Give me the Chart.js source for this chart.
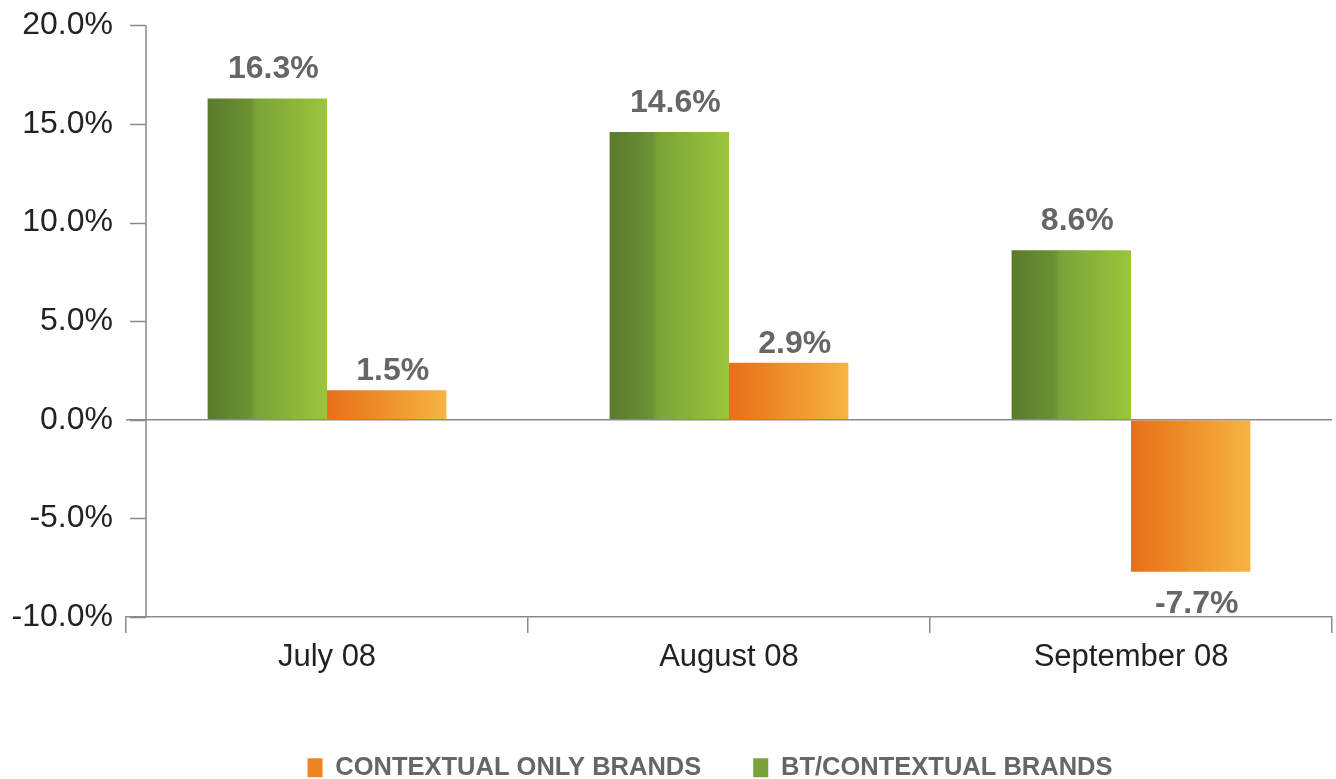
<!DOCTYPE html>
<html>
<head>
<meta charset="utf-8">
<title>BT vs contextual brands</title>
<script src="https://cdn.jsdelivr.net/npm/chart.js@4"></script>
<style>
  html, body { margin: 0; padding: 0; background: #fff; }
  #wrap { width: 1336px; height: 779px; position: relative; }
</style>
</head>
<body>
<div id="wrap"><canvas id="liftChart"></canvas></div>
<script>
// month categories and monthly lift per brand group (percent)
const months = ['July 08', 'August 08', 'September 08'];
const btContextual = [16.3, 14.6, 8.6];
const contextualOnly = [1.5, 2.9, -7.7];
const yTicks = [-10, -5, 0, 5, 10, 15, 20];

const FONT = '"Liberation Sans", Arial, Helvetica, sans-serif';
const AXIS = '#8a8a8a';

// shading stops for each bar group, dark on the left to light on the right
const shades = {
    green: [[0, '#5a7a2d'], [0.36, '#6c9133'], [0.4, '#7aa238'], [1, '#9cc53c']],
    orange: [[0, '#e76f1b'], [0.4, '#ed8a27'], [1, '#f7b444']]
};

const barShading = {
    id: 'barShading',
    beforeDatasetsDraw(chart) {
        const ctx = chart.ctx;
        chart.data.datasets.forEach((ds, i) => {
            const meta = chart.getDatasetMeta(i);
            meta.data.forEach(bar => {
                const { x, width } = bar.getProps(['x', 'width'], true);
                const g = ctx.createLinearGradient(x - width / 2, 0, x + width / 2, 0);
                shades[ds.shade].forEach(s => g.addColorStop(s[0], s[1]));
                bar.options.backgroundColor = g;
            });
        });
    }
};

// y axis line sits a little right of the plot edge, with short ticks reaching left
const yAxisLine = {
    id: 'yAxisLine',
    beforeDatasetsDraw(chart) {
        const { ctx, chartArea } = chart;
        const y = chart.scales.y;
        const ax = chartArea.left + 20;
        ctx.save();
        ctx.strokeStyle = AXIS;
        ctx.lineWidth = 1.5;
        ctx.beginPath();
        ctx.moveTo(ax, chartArea.top);
        ctx.lineTo(ax, chartArea.bottom);
        y.ticks.forEach(t => {
            const py = Math.round(y.getPixelForValue(t.value)) + 0.5;
            ctx.moveTo(chartArea.left + 4, py);
            ctx.lineTo(ax, py);
        });
        ctx.stroke();
        ctx.restore();
    }
};

// the legend row is centred a bit right of the canvas middle
const legendInset = {
    id: 'legendInset',
    afterLayout(chart) {
        if (chart.legend) chart.legend.left += 88;
    }
};

const valueLabels = {
    id: 'valueLabels',
    afterDatasetsDraw(chart) {
        const ctx = chart.ctx;
        ctx.save();
        ctx.font = 'bold 32px ' + FONT;
        ctx.fillStyle = '#666666';
        ctx.textAlign = 'center';
        ctx.textBaseline = 'alphabetic';
        chart.data.datasets.forEach((ds, i) => {
            const meta = chart.getDatasetMeta(i);
            meta.data.forEach((bar, j) => {
                const v = ds.data[j];
                const text = v.toFixed(1) + '%';
                const { x, y } = bar.getProps(['x', 'y'], true);
                const ty = v >= 0 ? y - ds.labelGap : y + 18 + 23;
                ctx.fillText(text, x + 6, ty);
            });
        });
        ctx.restore();
    }
};

new Chart(document.getElementById('liftChart'), {
    type: 'bar',
    data: {
        labels: months,
        datasets: [
            { label: 'BT/CONTEXTUAL BRANDS', data: btContextual, shade: 'green', labelGap: 20, backgroundColor: () => '#7aa238' },
            { label: 'CONTEXTUAL ONLY BRANDS', data: contextualOnly, shade: 'orange', labelGap: 10, backgroundColor: () => '#ee8b28' }
        ]
    },
    options: {
        responsive: true,
        maintainAspectRatio: false,
        animation: false,
        categoryPercentage: 0.594,
        barPercentage: 1.0,
        layout: { padding: { left: 0, right: 4, top: 7, bottom: 0 } },
        plugins: {
            tooltip: { enabled: false },
            legend: {
                position: 'bottom',
                reverse: true,
                maxHeight: 76,
                labels: {
                    boxWidth: 15,
                    boxHeight: 19,
                    padding: 52,
                    color: '#666666',
                    font: { family: FONT, size: 25.5, weight: 'bold' },
                    generateLabels(chart) {
                        return chart.data.datasets.map((ds, i) => ({
                            text: ds.label,
                            fillStyle: ds.shade === 'green' ? '#7aa238' : '#ee8427',
                            strokeStyle: 'rgba(0,0,0,0)',
                            lineWidth: 0,
                            fontColor: '#666666',
                            datasetIndex: i
                        }));
                    }
                }
            }
        },
        scales: {
            x: {
                afterFit(s) { s.height = 86; },
                grid: { drawOnChartArea: false, drawTicks: true, tickLength: 16, color: AXIS, lineWidth: 1.5, offset: true },
                border: { display: true, color: AXIS, width: 1.5 },
                ticks: { color: '#222222', font: { family: FONT, size: 31 }, padding: 6 }
            },
            y: {
                min: -10,
                max: 20,
                afterFit(s) { s.width = 126; },
                afterBuildTicks(s) { s.ticks = yTicks.map(v => ({ value: v })); },
                grid: {
                    drawTicks: false,
                    color: c => (c.tick && c.tick.value === 0) ? AXIS : 'rgba(0,0,0,0)',
                    lineWidth: 1.5
                },
                border: { display: false },
                ticks: {
                    color: '#222222',
                    padding: 13,
                    font: { family: FONT, size: 32, lineHeight: 0.78 },
                    callback: v => Number(v).toFixed(1) + '%'
                }
            }
        }
    },
    plugins: [barShading, yAxisLine, legendInset, valueLabels]
});
</script>
</body>
</html>
